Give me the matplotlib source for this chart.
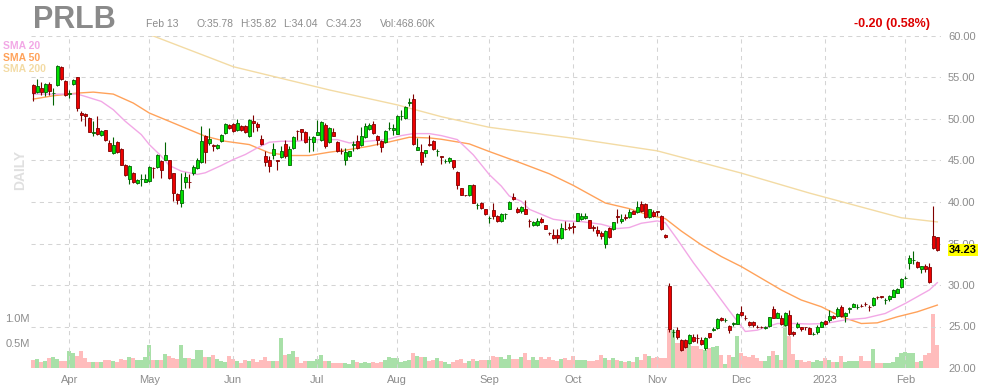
import numpy as np
import pandas as pd
import matplotlib
matplotlib.use("Agg")
import matplotlib.pyplot as plt
import matplotlib.transforms as mtransforms

plt.rcParams['font.family'] = ['Liberation Sans', 'DejaVu Sans']

# trading days shown (NYSE holidays removed)
holidays = ["2022-04-15", "2022-05-30", "2022-06-20", "2022-07-04", "2022-09-05",
            "2022-11-24", "2022-12-26", "2023-01-02", "2023-01-16"]
dates = pd.bdate_range("2022-03-21", "2023-02-13", freq="C", holidays=holidays)

opens = [
    54.12, 53.24, 53.72, 53.24, 54.24, 53.10, 54.12, 56.24, 54.52, 53.00,
    54.24, 55.04, 50.72, 50.60, 50.12, 48.35, 48.92, 48.12, 48.64, 47.12,
    45.92, 47.20, 46.40, 44.40, 42.72, 43.52, 42.32, 42.75, 42.44, 42.52,
    44.15, 44.20, 44.92, 45.12, 45.00, 43.44, 41.00, 39.92, 42.44, 42.45,
    43.44, 44.12, 44.80, 48.00, 47.12, 46.85, 46.52, 47.32, 48.32, 49.24,
    49.44, 48.64, 49.12, 49.20, 47.92, 49.80, 49.44, 47.60, 45.52, 45.00,
    45.64, 45.00, 45.40, 47.00, 44.44, 46.52, 48.55, 48.80, 48.44, 47.56,
    47.20, 48.12, 47.44, 49.32, 47.20, 48.40, 47.20, 46.12, 45.12, 45.52,
    46.90, 47.32, 46.92, 47.84, 48.80, 49.44, 48.00, 47.32, 47.20, 48.90,
    48.72, 48.24, 50.35, 50.12, 51.95, 52.40, 46.24, 46.04, 45.92, 46.95,
    47.40, 46.10, 45.60, 44.90, 44.92, 45.00, 43.60, 41.72, 40.82, 40.80,
    42.00, 39.58, 39.84, 39.12, 38.10, 39.00, 38.32, 37.72, 38.58, 39.20,
    40.60, 39.20, 38.92, 39.12, 37.75, 37.24, 37.20, 37.92, 37.28, 36.25,
    36.04, 36.04, 35.64, 36.72, 36.95, 37.05, 37.72, 38.00, 38.08, 37.80,
    36.95, 36.64, 36.24, 35.00, 36.92, 36.72, 38.25, 37.72, 38.15, 38.20,
    38.92, 38.80, 39.72, 39.80, 38.24, 38.84, 38.85, 38.32, 36.05, 29.92,
    24.32, 24.56, 23.43, 23.43, 23.02, 23.75, 23.65, 23.35, 22.46, 24.23,
    24.56, 24.76, 26.05, 25.75, 25.04, 25.35, 25.36, 26.73, 26.08, 25.56,
    25.56, 24.97, 24.95, 24.86, 25.04, 27.10, 26.05, 26.05, 25.16, 26.37,
    24.35, 24.88, 24.88, 24.90, 24.76, 24.10, 24.35, 24.96, 25.69, 25.77,
    26.25, 26.25, 27.38, 26.25, 27.15, 27.38, 27.35, 27.52, 27.68, 27.32,
    27.58, 28.52, 28.60, 28.17, 28.27, 28.59, 29.07, 29.72, 30.86, 32.70,
    33.00, 32.82, 31.90, 32.30, 32.14, 35.93, 35.78,
]
highs = [
    54.24, 54.80, 54.40, 54.32, 54.40, 53.72, 56.52, 56.40, 54.64, 53.52,
    54.80, 55.12, 50.92, 50.72, 50.24, 49.72, 50.32, 48.72, 48.72, 47.52,
    47.84, 47.32, 46.52, 44.52, 44.40, 43.60, 42.80, 43.32, 43.32, 44.32,
    44.20, 45.80, 45.04, 47.20, 45.12, 43.52, 41.12, 43.52, 43.60, 43.32,
    44.40, 45.32, 49.20, 48.12, 48.92, 47.04, 47.04, 48.20, 49.52, 49.44,
    49.52, 50.00, 49.24, 49.32, 50.00, 50.52, 49.64, 48.12, 46.12, 45.52,
    47.12, 45.00, 46.80, 47.52, 46.72, 47.92, 48.72, 48.80, 48.52, 47.92,
    47.92, 49.84, 49.72, 49.52, 49.04, 48.92, 47.32, 46.52, 46.52, 46.20,
    47.32, 48.12, 49.04, 49.52, 49.52, 49.72, 48.12, 47.52, 48.64, 49.60,
    49.44, 50.52, 51.04, 51.60, 52.52, 53.04, 47.72, 47.04, 46.32, 48.12,
    47.44, 46.40, 45.60, 45.20, 45.40, 45.00, 43.72, 41.72, 40.85, 42.08,
    42.12, 39.92, 40.00, 39.20, 38.32, 39.84, 38.40, 38.72, 38.72, 40.12,
    41.12, 39.40, 39.52, 40.20, 37.92, 37.72, 38.12, 38.24, 37.28, 36.40,
    36.80, 36.72, 37.52, 37.72, 37.50, 37.60, 38.72, 38.72, 38.72, 37.80,
    37.20, 37.12, 36.52, 36.60, 37.00, 37.64, 39.12, 38.52, 38.52, 39.12,
    39.00, 40.12, 40.12, 39.92, 39.20, 39.00, 38.92, 38.40, 36.10, 30.20,
    24.75, 24.96, 23.55, 23.55, 24.15, 24.07, 24.15, 23.75, 23.75, 24.23,
    24.96, 25.97, 26.17, 26.05, 25.16, 25.56, 26.57, 27.46, 26.37, 25.64,
    25.64, 25.16, 25.10, 25.04, 26.17, 27.46, 26.77, 26.37, 26.77, 26.98,
    24.48, 25.56, 25.00, 25.00, 24.88, 24.35, 25.16, 25.64, 25.77, 26.98,
    26.35, 27.38, 27.58, 26.77, 27.38, 27.78, 27.66, 27.66, 27.98, 27.58,
    28.51, 28.67, 28.70, 28.39, 28.79, 29.48, 29.60, 30.81, 31.09, 33.63,
    34.11, 32.90, 32.34, 32.54, 32.70, 39.56, 35.82,
]
lows = [
    52.12, 53.12, 52.84, 52.72, 52.84, 51.72, 54.00, 54.72, 52.72, 52.52,
    54.12, 50.92, 49.72, 49.12, 48.40, 47.92, 48.12, 47.92, 47.32, 46.12,
    45.80, 45.92, 44.40, 43.12, 42.12, 42.32, 42.12, 41.92, 42.40, 42.40,
    42.92, 44.12, 42.92, 45.00, 42.72, 40.12, 39.72, 39.40, 41.72, 41.72,
    43.30, 43.92, 44.72, 44.72, 46.92, 46.12, 46.44, 47.20, 48.24, 48.84,
    48.44, 48.52, 48.52, 48.32, 47.80, 48.40, 48.52, 46.90, 44.32, 43.60,
    45.20, 43.84, 45.32, 45.32, 44.40, 46.40, 47.52, 47.44, 47.12, 46.00,
    46.12, 48.12, 47.40, 46.52, 47.12, 47.92, 46.00, 45.84, 44.44, 45.44,
    46.12, 46.40, 46.80, 47.72, 48.72, 48.20, 46.92, 46.00, 47.12, 48.64,
    48.12, 48.20, 49.92, 50.04, 51.52, 46.92, 46.24, 44.44, 45.40, 46.80,
    46.32, 45.60, 44.52, 44.64, 44.64, 43.92, 41.60, 40.80, 40.75, 40.72,
    39.84, 39.20, 39.12, 38.40, 37.44, 38.00, 37.60, 37.60, 38.00, 39.12,
    40.24, 38.72, 38.72, 38.52, 37.00, 37.12, 37.12, 37.52, 36.80, 36.00,
    35.52, 35.12, 35.52, 36.64, 36.60, 36.32, 37.72, 37.84, 37.92, 36.84,
    36.52, 35.92, 35.60, 34.40, 35.72, 36.64, 37.52, 37.52, 37.84, 38.12,
    38.52, 38.72, 38.80, 38.12, 38.12, 38.24, 38.32, 36.64, 35.70, 24.35,
    23.75, 23.55, 22.05, 22.42, 22.94, 23.15, 23.02, 22.74, 22.22, 23.67,
    24.48, 24.64, 25.69, 25.56, 24.23, 25.04, 25.28, 26.29, 25.77, 25.08,
    24.96, 24.80, 24.82, 24.72, 24.96, 25.97, 25.97, 25.16, 25.04, 23.95,
    23.83, 24.76, 24.50, 24.60, 24.07, 23.95, 24.15, 24.88, 25.24, 25.56,
    25.95, 26.17, 26.17, 25.56, 26.57, 27.30, 27.06, 27.30, 27.46, 26.90,
    27.46, 28.27, 28.45, 27.70, 28.10, 28.51, 28.99, 29.60, 30.69, 31.90,
    32.54, 32.02, 31.50, 31.62, 30.28, 34.32, 34.04,
]
closes = [
    53.12, 53.92, 53.24, 54.24, 53.32, 53.15, 56.40, 54.80, 52.92, 53.10,
    54.64, 51.32, 50.52, 50.40, 48.40, 48.40, 48.24, 48.52, 47.44, 46.12,
    46.84, 46.00, 44.40, 43.24, 44.32, 42.44, 42.64, 42.80, 42.72, 44.20,
    44.10, 45.68, 43.80, 45.72, 42.84, 41.04, 40.20, 41.44, 43.04, 42.40,
    44.20, 45.04, 47.40, 46.00, 47.60, 46.80, 46.92, 48.12, 49.44, 48.96,
    48.56, 49.52, 48.64, 48.40, 49.84, 49.52, 49.04, 47.04, 44.80, 44.32,
    46.40, 44.88, 46.12, 45.52, 46.40, 47.84, 48.50, 48.40, 47.20, 47.60,
    47.84, 48.40, 49.64, 46.72, 48.92, 48.00, 46.12, 46.10, 46.00, 46.12,
    46.92, 46.52, 47.92, 49.12, 49.32, 48.32, 47.52, 46.64, 48.52, 48.92,
    48.92, 50.40, 50.40, 51.44, 52.00, 47.04, 46.64, 44.80, 46.24, 46.92,
    46.40, 46.12, 45.44, 44.92, 45.32, 44.24, 42.00, 40.80, 40.80, 42.00,
    39.92, 39.60, 39.24, 38.52, 38.12, 38.32, 37.72, 38.60, 38.60, 40.04,
    40.32, 38.80, 39.40, 38.60, 37.72, 37.60, 37.72, 37.64, 36.80, 36.24,
    35.64, 35.64, 36.92, 36.70, 36.90, 37.00, 38.64, 38.32, 38.32, 36.92,
    36.92, 36.32, 35.92, 36.52, 35.80, 37.60, 38.24, 38.00, 38.12, 38.84,
    38.60, 39.44, 38.92, 38.24, 39.12, 38.32, 38.84, 36.72, 35.77, 24.64,
    24.36, 23.75, 22.14, 22.54, 23.95, 23.27, 23.63, 22.86, 23.63, 23.75,
    24.68, 25.85, 25.77, 25.77, 24.56, 25.36, 26.49, 26.37, 26.05, 25.16,
    25.20, 24.96, 24.94, 24.88, 26.09, 26.05, 26.57, 25.28, 26.65, 24.15,
    24.07, 25.36, 24.64, 24.88, 24.15, 24.15, 24.96, 25.56, 25.36, 26.25,
    26.05, 27.06, 26.25, 26.65, 27.18, 27.66, 27.38, 27.50, 27.66, 27.30,
    28.39, 28.51, 28.59, 28.19, 28.67, 29.40, 29.48, 30.69, 30.89, 33.23,
    33.03, 32.22, 32.30, 31.90, 30.40, 34.44, 34.23,
]
# volume in millions of shares
volumes = [
    0.17, 0.19, 0.13, 0.15, 0.21, 0.23, 0.19, 0.14, 0.15, 0.35,
    0.31, 0.25, 0.35, 0.21, 0.13, 0.13, 0.13, 0.13, 0.17, 0.17,
    0.15, 0.13, 0.19, 0.17, 0.23, 0.21, 0.17, 0.16, 0.23, 0.47,
    0.17, 0.17, 0.17, 0.28, 0.25, 0.21, 0.19, 0.47, 0.21, 0.21,
    0.19, 0.37, 0.37, 0.23, 0.23, 0.27, 0.19, 0.15, 0.13, 0.25,
    0.18, 0.15, 0.11, 0.17, 0.15, 0.19, 0.13, 0.16, 0.23, 0.15,
    0.15, 0.15, 0.61, 0.27, 0.29, 0.35, 0.23, 0.11, 0.15, 0.15,
    0.15, 0.19, 0.27, 0.15, 0.15, 0.11, 0.11, 0.11, 0.10, 0.09,
    0.17, 0.13, 0.11, 0.13, 0.11, 0.13, 0.11, 0.13, 0.17, 0.23,
    0.21, 0.21, 0.13, 0.15, 0.17, 0.31, 0.25, 0.23, 0.23, 0.15,
    0.17, 0.21, 0.15, 0.13, 0.09, 0.13, 0.17, 0.19, 0.11, 0.15,
    0.19, 0.15, 0.17, 0.17, 0.17, 0.24, 0.23, 0.22, 0.19, 0.26,
    0.19, 0.19, 0.22, 0.31, 0.17, 0.22, 0.17, 0.23, 0.19, 0.22,
    0.17, 0.15, 0.19, 0.21, 0.17, 0.25, 0.17, 0.17, 0.17, 0.15,
    0.15, 0.17, 0.27, 0.21, 0.17, 0.21, 0.17, 0.15, 0.12, 0.15,
    0.12, 0.23, 0.17, 0.29, 0.25, 0.21, 0.22, 0.21, 0.21, 0.78,
    0.77, 0.51, 0.51, 0.45, 0.51, 0.45, 0.45, 0.38, 0.37, 0.40,
    0.43, 0.45, 0.27, 0.08, 0.27, 0.23, 0.65, 0.30, 0.25, 0.23,
    0.27, 0.20, 0.15, 0.15, 0.25, 0.35, 0.27, 0.17, 0.90, 0.65,
    0.29, 0.17, 0.17, 0.13, 0.15, 0.12, 0.17, 0.15, 0.20, 0.17,
    0.13, 0.13, 0.25, 0.13, 0.15, 0.15, 0.15, 0.25, 0.15, 0.15,
    0.39, 0.10, 0.10, 0.10, 0.11, 0.13, 0.23, 0.30, 0.33, 0.31,
    0.31, 0.12, 0.15, 0.27, 0.31, 1.09, 0.47,
]

# moving averages (trading-day index, value)
sma20_at = [0, 5, 11, 13, 17, 20, 23, 27, 29, 32, 34, 37, 41, 43, 47, 50, 53, 56, 59,
            62, 66, 69, 72, 76, 79, 82, 86, 89, 92, 95, 99, 102, 106, 110, 114, 117,
            119, 122, 124, 127, 130, 133, 137, 142, 146, 149, 152, 156, 158, 161, 165,
            170, 174, 178, 181, 186, 190, 194, 198, 203, 208, 213, 218, 221, 224, 226]
sma20 = [53.0, 53.0, 53.0, 52.72, 52.12, 51.12, 49.72, 48.12, 46.92, 45.52, 44.4, 43.72,
         43.32, 43.52, 44.4, 45.12, 45.72, 46.52, 47.2, 47.32, 47.32, 47.52, 47.52, 47.52,
         47.12, 47.24, 47.44, 47.6, 48.0, 48.24, 48.24, 48.0, 47.52, 45.68, 43.3, 41.92,
         40.72, 40.08, 39.12, 38.52, 37.92, 37.72, 37.64, 37.32, 36.8, 36.92, 37.44, 37.72,
         37.5, 35.5, 32.7, 29.5, 26.9, 24.4, 24.56, 25.36, 25.36, 25.3, 25.36, 25.8, 26.0,
         26.57, 27.78, 28.59, 29.4, 30.28]
sma50_at = [0, 5, 11, 15, 20, 25, 29, 33, 38, 43, 48, 54, 59, 64, 69, 74, 79, 84, 89, 94,
            99, 102, 109, 114, 122, 129, 135, 143, 149, 154, 158, 162, 167, 172, 177, 182,
            187, 192, 197, 202, 207, 211, 216, 221, 226]
sma50 = [52.4, 52.8, 53.12, 53.24, 53.0, 51.92, 50.72, 49.92, 48.92, 47.92, 47.32, 46.92,
         45.92, 45.6, 45.6, 46.0, 46.32, 46.72, 47.24, 47.8, 47.72, 47.56, 47.0, 46.08,
         44.68, 43.4, 42.0, 39.88, 39.2, 38.4, 38.0, 36.5, 34.84, 33.43, 32.22, 30.81,
         29.4, 28.19, 27.38, 26.17, 25.36, 25.44, 26.17, 26.77, 27.58]
sma200_at = [24, 30, 50, 74, 91, 102, 114, 135, 156, 177, 194, 217, 226]
sma200 = [60.7, 60.0, 56.3, 53.5, 51.7, 50.28, 49.0, 47.68, 46.16, 43.48, 41.08, 38.1, 37.6]

last_close = 34.23
header = [("Feb 13", 145.7), ("O:35.78", 196.7), ("H:35.82", 240), ("L:34.04", 283),
          ("C:34.23", 325), ("Vol:468.60K", 380)]

W, H = 983, 388
fig = plt.figure(figsize=(W / 100, H / 100), dpi=100)
rect = [31 / W, 20 / H, 910 / W, 332 / H]
axv = fig.add_axes(rect)
ax = fig.add_axes(rect, sharex=axv)
ax.patch.set_visible(False)

x = np.arange(len(dates))
o, h, l, c = map(np.array, (opens, highs, lows, closes))
up = c >= o

# volume underneath
vol_col = np.where(up, '#a8e0a8', '#ffbcbc')
axv.bar(x, volumes, width=0.95, color=vol_col, linewidth=0, zorder=2)
axv.set_ylim(0, 332 / 50)
axv.set_yticks([0.5, 1.0])
axv.set_yticklabels(['0.5M', '1.0M'])
axv.tick_params(axis='y', length=0, pad=1, labelsize=8, labelcolor='#8c8c8c')
axv.tick_params(axis='x', bottom=False, labelbottom=False)

ax.set_xlim((31 - 33.3) / 4, (941 - 33.3) / 4)
ax.set_ylim(20, 60)

# grid
grid_kw = dict(color='#d4d4d4', lw=0.75, ls=(0, (4, 4)), zorder=0.5)
for p in range(25, 61, 5):
    ax.axhline(p, **grid_kw)
months = pd.Series(x, index=dates).groupby([dates.year, dates.month]).first()
month_pos = months.values[1:]
month_lab = [('%d' % d.year) if d.month == 1 else d.strftime('%b') for d in dates[month_pos]]
for m in month_pos:
    ax.axvline(m, **grid_kw)

# moving averages
ax.plot(sma200_at, sma200, color='#f3dba4', lw=1.0, zorder=2)
ax.plot(sma50_at, sma50, color='#ffa25a', lw=1.0, zorder=2)
ax.plot(sma20_at, sma20, color='#f2a8e6', lw=1.0, zorder=2)

# candles
edge = np.where(up, '#006400', '#800000')
fill = np.where(up, '#00e000', '#ee0000')
ax.vlines(x, l, h, colors=edge, lw=0.8, zorder=3)
ax.bar(x, np.maximum(np.abs(c - o), 0.03), bottom=np.minimum(o, c), width=0.72,
       color=fill, edgecolor=edge, linewidth=0.6, zorder=4)

ax.yaxis.tick_right()
ax.set_yticks(range(20, 61, 5))
ax.set_yticklabels(['%.2f' % v for v in range(20, 61, 5)])
ax.tick_params(axis='y', length=0, pad=5, labelsize=8, labelcolor='#8c8c8c')
ax.set_xticks(month_pos)
ax.set_xticklabels(month_lab)
ax.tick_params(axis='x', length=0, pad=5, labelsize=8, labelcolor='#8c8c8c')
for a in (ax, axv):
    for s in a.spines.values():
        s.set_visible(False)

trans = mtransforms.blended_transform_factory(ax.transAxes, ax.transData)
ax.annotate('%.2f' % last_close, xy=(1, last_close), xycoords=trans, xytext=(5.8, 0),
            textcoords='offset points', ha='left', va='center', fontsize=8,
            fontweight='bold', color='black', zorder=10, annotation_clip=False,
            bbox=dict(boxstyle='square,pad=0.1', fc='#ffff00', ec='none'))

# header texts
fig.text(33 / W, 1 - 28.5 / H, 'PRLB', fontsize=22, fontweight='bold', color='#8a8a8a',
         va='baseline')
for txt, px in header:
    fig.text(px / W, 1 - 27.3 / H, txt, fontsize=7.5, color='#8c8c8c', va='baseline')
fig.text(930 / W, 1 - 27.5 / H, '-0.20 (0.58%)', fontsize=9, fontweight='bold',
         color='#dd0000', ha='right', va='baseline')
for txt, col, yb in [('SMA 20', '#f2a8e6', 49), ('SMA 50', '#ffa25a', 60.7),
                     ('SMA 200', '#f3dba4', 72.3)]:
    fig.text(3.3 / W, 1 - yb / H, txt, fontsize=7.5, fontweight='bold', color=col,
             va='baseline')
fig.text(20.5 / W, 1 - 170 / H, 'DAILY', rotation=90, fontsize=10, fontweight='bold',
         color='#e0e0e0', ha='center', va='center')

fig.savefig('out.png', dpi=100)
